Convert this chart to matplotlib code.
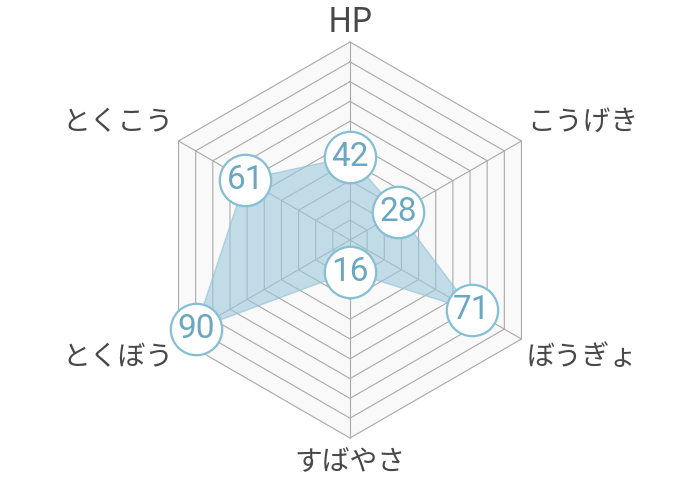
import numpy as np
import matplotlib
matplotlib.use("Agg")
import matplotlib.pyplot as plt

plt.rcParams['font.family'] = ['Noto Sans CJK JP', 'DejaVu Sans']

labels = ["HP", "こうげき", "ぼうぎょ", "すばやさ", "とくぼう", "とくこう"]
values = [42, 28, 71, 16, 90, 61]
max_val = 100
steps = 10

n = len(labels)
ang = np.deg2rad(90 - 360 / n * np.arange(n))
ca, sa = np.cos(ang), np.sin(ang)

fig = plt.figure(figsize=(7, 4.8), dpi=100)
ax = fig.add_axes([0, 0, 1, 1])
scale = 1.98  # px per unit
ax.set_xlim(-350 / scale, 350 / scale)
ax.set_ylim(-240 / scale, 240 / scale)
ax.set_aspect('equal')
ax.axis('off')

# background hexagon
ax.fill(np.append(ca, ca[0]) * max_val, np.append(sa, sa[0]) * max_val,
        color='#f9f9f9', zorder=0)

# rings and spokes
for k in range(1, steps + 1):
    r = max_val * k / steps
    ax.plot(np.append(ca, ca[0]) * r, np.append(sa, sa[0]) * r,
            color='#a9a9a9', lw=0.8, zorder=1)
for i in range(n):
    ax.plot([0, ca[i] * max_val], [0, sa[i] * max_val], color='#a9a9a9', lw=0.8, zorder=1)

# data polygon
v = np.array(values, dtype=float)
px, py = ca * v, sa * v
ax.fill(np.append(px, px[0]), np.append(py, py[0]), facecolor='#9cc8dc', alpha=0.6,
        edgecolor='#8cbfd6', lw=1, zorder=2)

# value markers
ax.scatter(px, py, s=37 ** 2, facecolor='white', edgecolor='#84bfd6', linewidths=1.6, zorder=3)
for x, y, val in zip(px, py, values):
    ax.text(x, y, str(val), ha='center', va='center', fontsize=24, color='#6aa7c2',
            family=['Roboto', 'DejaVu Sans'], zorder=4)

# axis labels
lab_pos = [
    (0, 218, 'center', 'center'),
    (177, 118, 'left', 'center'),
    (177, -117, 'left', 'center'),
    (0, -222, 'center', 'center'),
    (-177, -117, 'right', 'center'),
    (-177, 118, 'right', 'center'),
]
for name, (lx, ly, ha, va) in zip(labels, lab_pos):
    size = 24 if name.isascii() else 20
    ax.text(lx / scale, ly / scale, name, ha=ha, va=va, fontsize=size, color='#484848')

fig.savefig('out.png', dpi=100, facecolor='white')
